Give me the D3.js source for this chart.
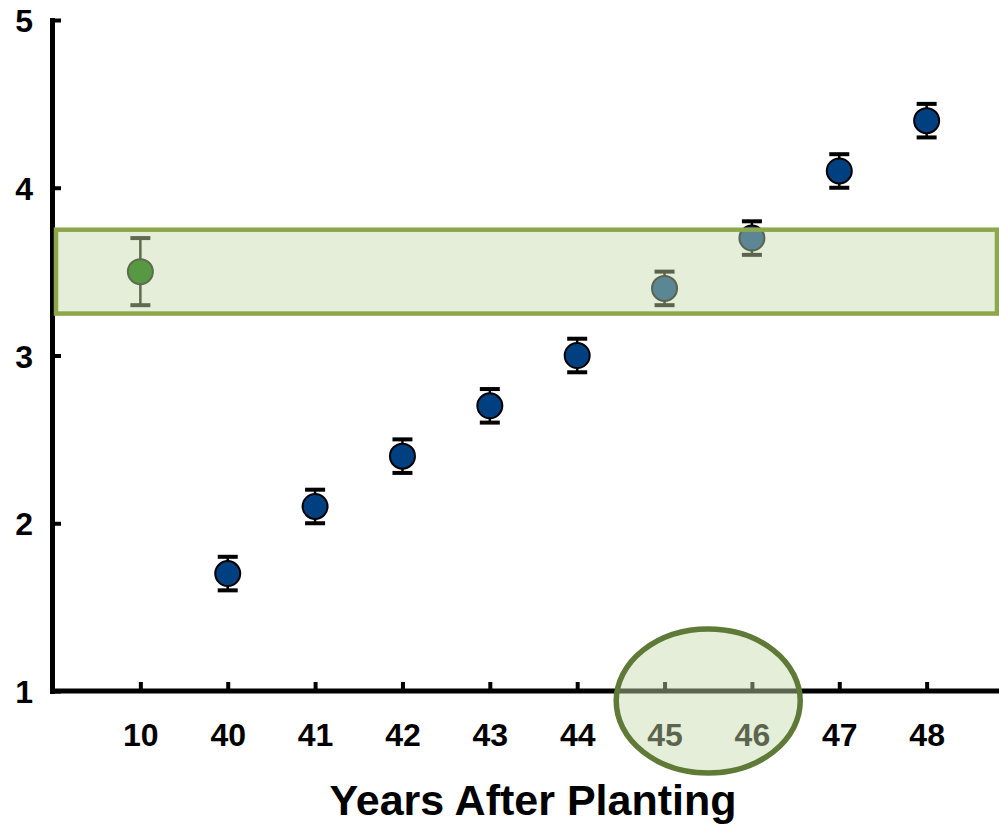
<!DOCTYPE html>
<html>
<head>
<meta charset="utf-8">
<script src="https://cdn.jsdelivr.net/npm/d3@7"></script>
<style>
  html, body { margin: 0; padding: 0; background: #fff; }
  svg { display: block; font-family: "Liberation Sans", Arial, sans-serif; }
</style>
</head>
<body>
<svg id="chart" width="999" height="827"></svg>
<script>
// ---- data ----
const categories = ["10", "40", "41", "42", "43", "44", "45", "46", "47", "48"];
const values     = [3.5, 1.7, 2.1, 2.4, 2.7, 3.0, 3.4, 3.7, 4.1, 4.4];
const errors     = [0.2, 0.1, 0.1, 0.1, 0.1, 0.1, 0.1, 0.1, 0.1, 0.1];
const yTicks     = [1, 2, 3, 4, 5];
const bandRange  = [3.25, 3.75];
const highlighted = ["45", "46"];
const referenceCategory = "10";
const xTitle = "Years After Planting";

const svg = d3.select("#chart");

const x = d3.scalePoint().domain(categories).range([53, 1014]).padding(1);
const y = d3.scaleLinear().domain([1, 5]).range([691, 20]);

const pts = categories.map((c, i) => ({ c, v: values[i], e: errors[i] }));

// ---- axes ----
const yAxis = d3.axisLeft(y).tickValues(yTicks).tickFormat(d3.format("d"))
  .tickSize(-9).tickSizeOuter(0).tickPadding(19);
const gy = svg.append("g").attr("transform", "translate(52,0)").call(yAxis);
gy.select(".domain").attr("stroke", "#000").attr("stroke-width", 5).attr("stroke-linecap", "square");
gy.selectAll(".tick line").attr("stroke", "#000").attr("stroke-width", 4);
gy.selectAll(".tick text").attr("fill", "#000").attr("font-size", 32).attr("font-weight", "bold")
  .attr("dy", "0.36em");

const xAxis = d3.axisBottom(x).tickSize(-9).tickSizeOuter(0);
const gx = svg.append("g").attr("transform", "translate(0,691)").call(xAxis);
gx.select(".domain").attr("stroke", "#000").attr("stroke-width", 5).attr("d", "M50,0H1014");
gx.selectAll(".tick line").attr("stroke", "#000").attr("stroke-width", 4);
gx.selectAll(".tick text").attr("fill", "#000").attr("font-size", 32).attr("font-weight", "bold")
  .attr("y", 55).attr("dy", 0);

svg.append("text").attr("x", 533).attr("y", 815).attr("text-anchor", "middle")
  .attr("font-size", 43).attr("font-weight", "bold").attr("fill", "#000").text(xTitle);

// ---- points with error bars ----
function drawPoint(g, d, fill, stroke) {
  const cx = x(d.c);
  g.append("line").attr("x1", cx).attr("x2", cx).attr("y1", y(d.v + d.e)).attr("y2", y(d.v - d.e))
    .attr("stroke", stroke).attr("stroke-width", 2.5);
  [d.v + d.e, d.v - d.e].forEach(v => {
    g.append("line").attr("x1", cx - 10).attr("x2", cx + 10).attr("y1", y(v)).attr("y2", y(v))
      .attr("stroke", stroke).attr("stroke-width", 4);
  });
  g.append("circle").attr("cx", cx).attr("cy", y(d.v)).attr("r", 12.5)
    .attr("fill", fill).attr("stroke", stroke).attr("stroke-width", 2);
}

const gp = svg.append("g");
pts.filter(d => d.c !== referenceCategory).forEach(d => drawPoint(gp, d, "#003f80", "#000"));

// ---- shaded band (semi-transparent overlay) ----
svg.append("rect")
  .attr("x", 56).attr("width", 941)
  .attr("y", y(bandRange[1])).attr("height", y(bandRange[0]) - y(bandRange[1]))
  .attr("fill", "rgba(198,218,170,0.46)")
  .attr("stroke", "#8ea64c").attr("stroke-width", 4.5);

// reference point (green)
const gr = svg.append("g");
pts.filter(d => d.c === referenceCategory).forEach(d => drawPoint(gr, d, "#579843", "#5f6b4e"));

// ---- highlight ellipse over categories 45-46 ----
const cxE = (x(highlighted[0]) + x(highlighted[1])) / 2;
svg.append("ellipse").attr("cx", cxE).attr("cy", 701).attr("rx", 92).attr("ry", 72)
  .attr("fill", "rgba(198,218,170,0.46)")
  .attr("stroke", "#5e7a36").attr("stroke-width", 5.5);
</script>
</body>
</html>
